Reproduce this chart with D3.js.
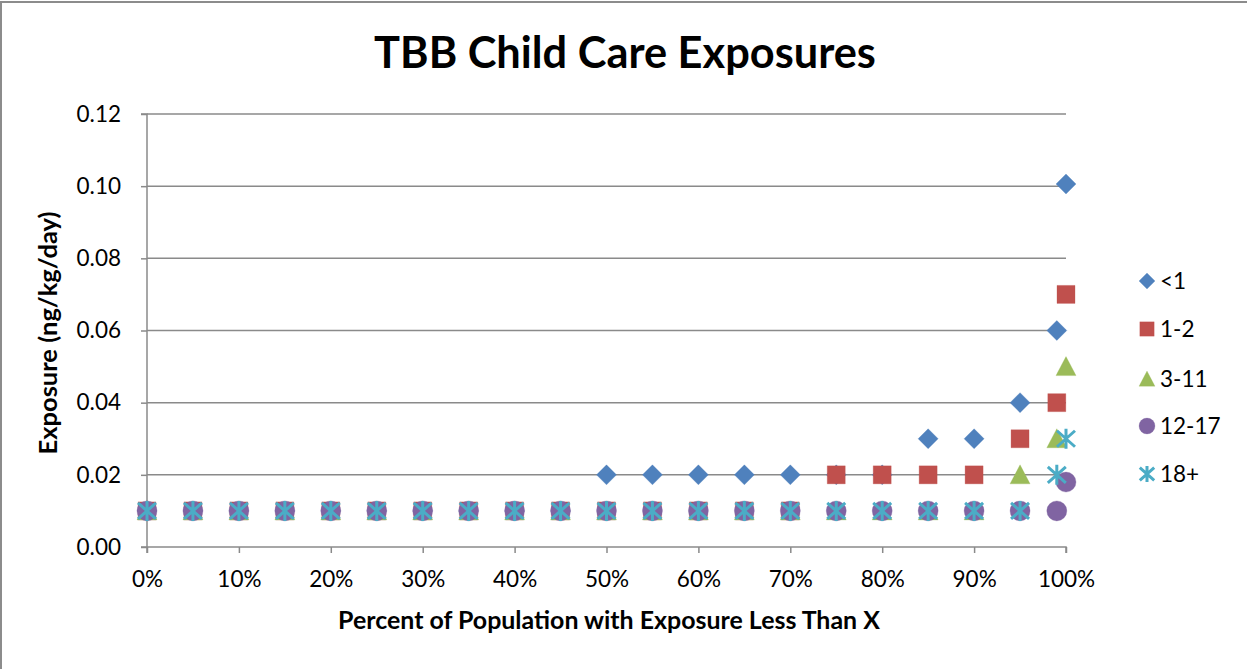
<!DOCTYPE html>
<html>
<head>
<meta charset="utf-8">
<script src="https://cdn.jsdelivr.net/npm/d3@7"></script>
<style>
  html, body { margin: 0; padding: 0; background: #fff; }
  svg { display: block; }
  text { font-family: Lato, "Open Sans", sans-serif; fill: #000; }
</style>
</head>
<body>
<svg id="chart" width="1247" height="669"></svg>
<script>
// Percentile of population (x) and exposure per age group (ng/kg/day)
const percentiles = [0, 0.05, 0.10, 0.15, 0.20, 0.25, 0.30, 0.35, 0.40, 0.45, 0.50,
                     0.55, 0.60, 0.65, 0.70, 0.75, 0.80, 0.85, 0.90, 0.95, 0.99, 1.00];
const seriesNames = ["<1", "1-2", "3-11", "12-17", "18+"];
const under1   = [0.01, 0.01, 0.01, 0.01, 0.01, 0.01, 0.01, 0.01, 0.01, 0.01, 0.02,
                  0.02, 0.02, 0.02, 0.02, 0.02, 0.02, 0.03, 0.03, 0.04, 0.06, 0.1006];
const age1to2  = [0.01, 0.01, 0.01, 0.01, 0.01, 0.01, 0.01, 0.01, 0.01, 0.01, 0.01,
                  0.01, 0.01, 0.01, 0.01, 0.02, 0.02, 0.02, 0.02, 0.03, 0.04, 0.07];
const age3to11 = [0.01, 0.01, 0.01, 0.01, 0.01, 0.01, 0.01, 0.01, 0.01, 0.01, 0.01,
                  0.01, 0.01, 0.01, 0.01, 0.01, 0.01, 0.01, 0.01, 0.02, 0.03, 0.05];
const age12to17 = [0.01, 0.01, 0.01, 0.01, 0.01, 0.01, 0.01, 0.01, 0.01, 0.01, 0.01,
                   0.01, 0.01, 0.01, 0.01, 0.01, 0.01, 0.01, 0.01, 0.01, 0.01, 0.018];
const age18plus = [0.01, 0.01, 0.01, 0.01, 0.01, 0.01, 0.01, 0.01, 0.01, 0.01, 0.01,
                   0.01, 0.01, 0.01, 0.01, 0.01, 0.01, 0.01, 0.01, 0.01, 0.02, 0.03];
const yTicks = [0, 0.02, 0.04, 0.06, 0.08, 0.10, 0.12];
const xTicks = [0, 0.1, 0.2, 0.3, 0.4, 0.5, 0.6, 0.7, 0.8, 0.9, 1.0];

const seriesValues = [under1, age1to2, age3to11, age12to17, age18plus];
const colors = ["#4F81BD", "#C0504D", "#9BBB59", "#8064A2", "#4BACC6"];
const shapes = ["diamond", "square", "triangle", "circle", "star"];

const svg = d3.select("#chart");
const W = 1247, H = 669;
const plot = { left: 147, right: 1066, top: 114, bottom: 547 };
const labelFont = "22.5px";

// chart frame (top and left edges visible)
svg.append("rect").attr("x", 1).attr("y", 2).attr("width", W + 10).attr("height", H + 10)
  .attr("fill", "#fff").attr("stroke", "#8c8c8c").attr("stroke-width", 2);

const x = d3.scaleLinear().domain([0, 1]).range([plot.left, plot.right]);
const y = d3.scaleLinear().domain([0, 0.12]).range([plot.bottom, plot.top]);

const gridColor = "#8a8a8a";

// horizontal gridlines
svg.append("g").selectAll("line").data(yTicks.filter(d => d > 0)).join("line")
  .attr("x1", plot.left).attr("x2", plot.right)
  .attr("y1", d => y(d)).attr("y2", d => y(d))
  .attr("stroke", gridColor).attr("stroke-width", 1.5);

// y axis
const yAxis = svg.append("g").attr("transform", `translate(${plot.left},0)`)
  .call(d3.axisLeft(y).tickValues(yTicks).tickFormat(d3.format(".2f")).tickSize(6).tickPadding(20));
// x axis
const xAxis = svg.append("g").attr("transform", `translate(0,${plot.bottom})`)
  .call(d3.axisBottom(x).tickValues(xTicks).tickFormat(d3.format(".0%")).tickSize(6).tickPadding(18));

[yAxis, xAxis].forEach(ax => {
  ax.select(".domain").attr("stroke", gridColor).attr("stroke-width", 1.5);
  ax.selectAll(".tick line").attr("stroke", gridColor).attr("stroke-width", 1.5);
  ax.selectAll("text").style("font-family", "Lato, 'Open Sans', sans-serif")
    .style("font-size", labelFont).attr("fill", "#000");
});
yAxis.select(".domain").attr("d", `M-6,${plot.top}H0V${plot.bottom + 6}`);
xAxis.select(".domain").attr("d", `M${plot.left - 6},0H${plot.right}V6`);

// marker path generators
const size = 20;
function markerPath(shape) {
  const h = size / 2;
  switch (shape) {
    case "diamond": return `M0,${-h}L${h},0L0,${h}L${-h},0Z`;
    case "square": return `M${-h + 1},${-h + 1}H${h - 1}V${h - 1}H${-h + 1}Z`;
    case "triangle": return `M0,${-h}L${h},${h - 1}L${-h},${h - 1}Z`;
    case "circle": return d3.symbol(d3.symbolCircle, Math.PI * 100)();
    case "star": {
      const a = h;
      return `M0,${-a}V${a}M${-a * 0.9},${-a * 0.8}L${a * 0.9},${a * 0.8}M${a * 0.9},${-a * 0.8}L${-a * 0.9},${a * 0.8}`;
    }
  }
}
function styleMarker(sel, i) {
  if (shapes[i] === "star") {
    sel.attr("fill", "none").attr("stroke", colors[i]).attr("stroke-width", 3);
  } else {
    sel.attr("fill", colors[i]).attr("stroke", colors[i]).attr("stroke-width", 0.5).attr("stroke-opacity", 0.6);
  }
}

// data markers, drawn series by series
seriesValues.forEach((vals, i) => {
  const pts = percentiles.map((p, k) => ({ p, v: vals[k] }));
  svg.append("g").selectAll("path").data(pts).join("path")
    .attr("d", markerPath(shapes[i]))
    .attr("transform", d => `translate(${x(d.p)},${y(d.v)})`)
    .call(styleMarker, i);
});

// title
function fitWidth(sel, target) {
  const w = sel.node().getComputedTextLength();
  const fs = parseFloat(sel.style("font-size"));
  sel.style("font-size", (fs * target / w) + "px");
}
const title = svg.append("text").attr("x", 625).attr("y", 68).attr("text-anchor", "middle")
  .style("font-size", "37px").style("font-weight", "bold").text("TBB Child Care Exposures");
fitWidth(title, 502);

const xTitle = svg.append("text").attr("x", 609).attr("y", 629).attr("text-anchor", "middle")
  .style("font-size", "20px").style("font-weight", "bold")
  .text("Percent of Population with Exposure Less Than X");
fitWidth(xTitle, 542);

const yTitle = svg.append("text").attr("transform", "translate(57,333) rotate(-90)")
  .attr("text-anchor", "middle")
  .style("font-size", "20px").style("font-weight", "bold").text("Exposure (ng/kg/day)");
fitWidth(yTitle, 243);

// legend
const legend = svg.append("g");
const legendY = [281, 329, 379, 426, 474];
seriesNames.forEach((name, i) => {
  const g = legend.append("g").attr("transform", `translate(1147,${legendY[i]})`);
  const s = 0.8;
  g.append("path").attr("d", markerPath(shapes[i])).attr("transform", `scale(${s})`)
    .call(styleMarker, i);
  if (shapes[i] === "star") g.select("path").attr("stroke-width", 3 / s);
  g.append("text").attr("x", 13).attr("dy", "0.35em").style("font-size", labelFont).text(name);
});
</script>
</body>
</html>
